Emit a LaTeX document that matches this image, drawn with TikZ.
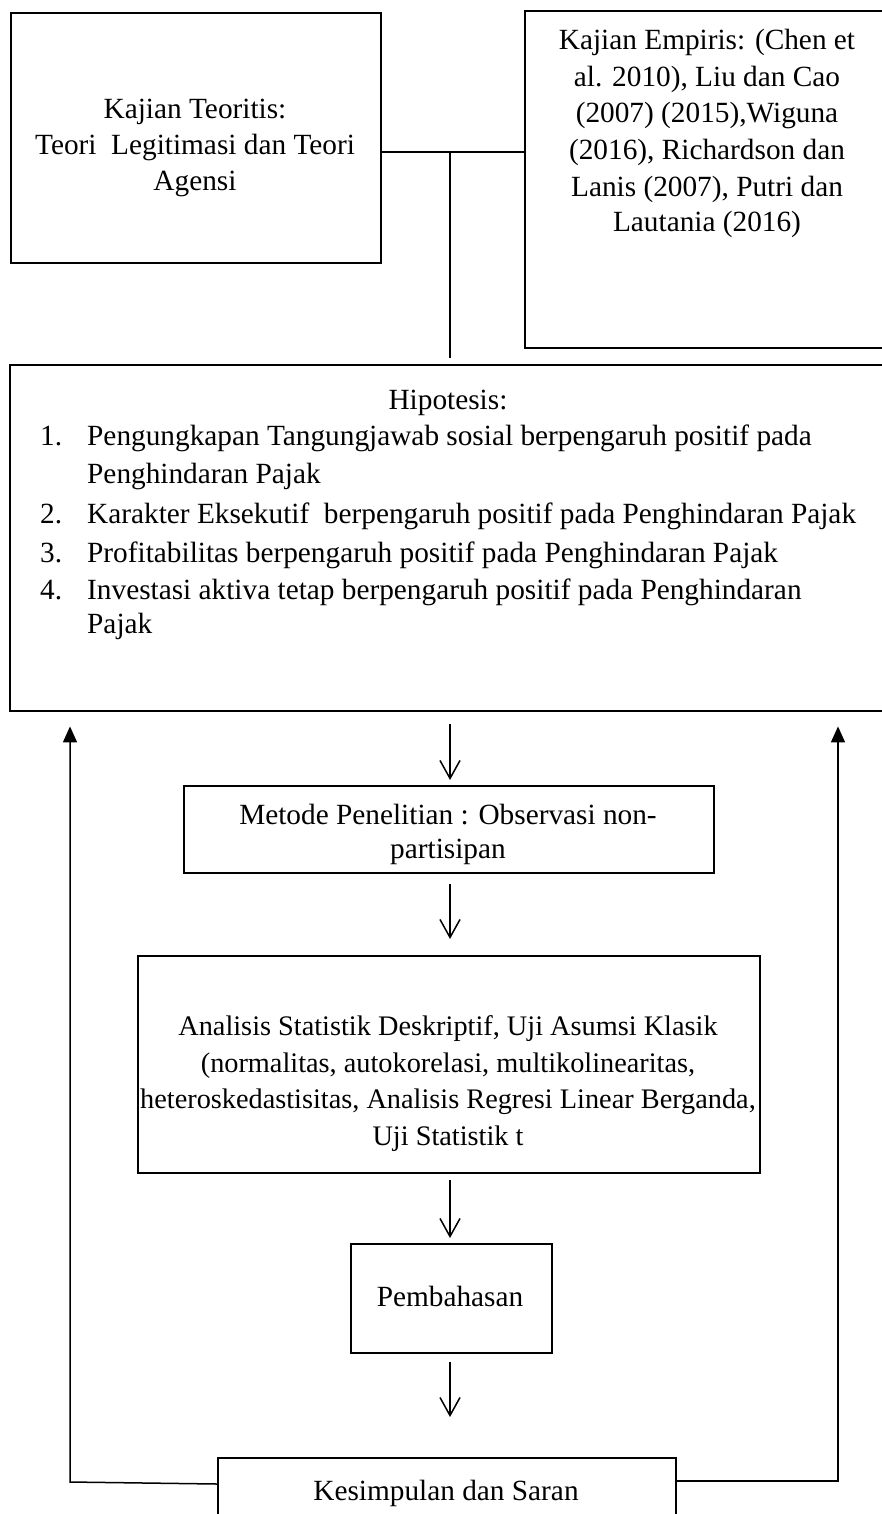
\documentclass[tikz,border=0pt]{standalone}
\usepackage{fontspec}
\setmainfont{Liberation Serif}
\usetikzlibrary{arrows.meta}
\begin{document}
\begin{tikzpicture}[x=1pt,y=-1pt,
  box/.style={draw,line width=2.4pt,inner sep=0pt,anchor=north west},
  txt/.style={inner sep=0pt,anchor=base,font=\fontsize{29.3}{36}\selectfont},
  txts/.style={txt,font=\fontsize{28.3}{36}\selectfont},
  txtl/.style={txt,anchor=base west},
  link/.style={line width=1.5pt},
  down/.style={link,-{Straight Barb[length=18pt,width=20pt,line width=1.5pt]}},
  up/.style={link,-{Triangle[length=16pt,width=14pt]}}]
\useasboundingbox (0,0) rectangle (882,1514);
\clip (0,0) rectangle (882,1514);
% boxes
\node[box,minimum width=370pt,minimum height=250pt] (teori) at (10,12) {};
\node[box,minimum width=380pt,minimum height=337pt] (empiris) at (524,10) {};
\node[box,minimum width=890pt,minimum height=346pt] (hipo) at (9,364) {};
\node[box,minimum width=530pt,minimum height=87pt] (metode) at (183,785) {};
\node[box,minimum width=622pt,minimum height=217pt] (analisis) at (137,955) {};
\node[box,minimum width=201pt,minimum height=109pt] (bahas) at (350,1243) {};
\node[box,minimum width=458pt,minimum height=100pt] (kes) at (217,1457) {};
% texts
\node[txt] (t1) at (195,119) {Kajian Teoritis:};
\node[txt] (t2) at (195,155) {Teori\ \ Legitimasi dan Teori};
\node[txt] (t3) at (195,191) {Agensi};
\node[txt] (e1) at (707,50) {Kajian Empiris: (Chen et};
\node[txt] (e2) at (707,87) {al. 2010), Liu dan Cao};
\node[txt] (e3) at (707,123) {(2007) (2015),Wiguna};
\node[txt] (e4) at (707,160) {(2016), Richardson dan};
\node[txt] (e5) at (707,197) {Lanis (2007), Putri dan};
\node[txt] (e6) at (707,232) {Lautania (2016)};
\node[txt] (h0) at (448,409) {Hipotesis:};
\node[txtl] (n1) at (40,445) {1.};
\node[txtl] (h1) at (87,445) {Pengungkapan Tangungjawab sosial berpengaruh positif pada};
\node[txtl] (h1b) at (87,483) {Penghindaran Pajak};
\node[txtl] (n2) at (40,523) {2.};
\node[txtl] (h2) at (87,523) {Karakter Eksekutif\ \ berpengaruh positif pada Penghindaran Pajak};
\node[txtl] (n3) at (40,562) {3.};
\node[txtl] (h3) at (87,562) {Profitabilitas berpengaruh positif pada Penghindaran Pajak};
\node[txtl] (n4) at (40,599) {4.};
\node[txtl] (h4) at (87,599) {Investasi aktiva tetap berpengaruh positif pada Penghindaran};
\node[txtl] (h4b) at (87,633) {Pajak};
\node[txt] (m1) at (448,824) {Metode Penelitian : Observasi non-};
\node[txt] (m2) at (448,858) {partisipan};
\node[txts] (a1) at (448,1035) {Analisis Statistik Deskriptif, Uji Asumsi Klasik};
\node[txts] (a2) at (448,1072) {(normalitas, autokorelasi, multikolinearitas,};
\node[txts] (a3) at (448,1108) {heteroskedastisitas, Analisis Regresi Linear Berganda,};
\node[txts] (a4) at (448,1145) {Uji Statistik t};
\node[txt] (b1) at (450,1306) {Pembahasan};
\node[txt] (k1) at (446,1500) {Kesimpulan dan Saran};
% connectors
\coordinate (j) at (450,152);
\draw[link] (teori.east |- j) -- (empiris.west |- j);
\draw[link] (j) -- ([yshift=6pt]hipo.north -| j);
\draw[down] ([yshift=-12pt]hipo.south -| j) -- ([yshift=5pt]metode.north -| j);
\draw[down] ([yshift=-10pt]metode.south -| j) -- ([yshift=16pt]analisis.north -| j);
\draw[down] ([yshift=-6pt]analisis.south -| j) -- ([yshift=5pt]bahas.north -| j);
\draw[down] ([yshift=-8pt]bahas.south -| j) -- ([yshift=40pt]kes.north -| j);
\coordinate (lc) at (70,1482);
\coordinate (rc) at (838,1481);
\draw[up] (kes.north west |- 0,1484) -- (lc) -- ([yshift=-14pt]hipo.south -| lc);
\draw[up] (kes.north east |- rc) -- (rc) -- ([yshift=-14pt]hipo.south -| rc);
\end{tikzpicture}
\end{document}
